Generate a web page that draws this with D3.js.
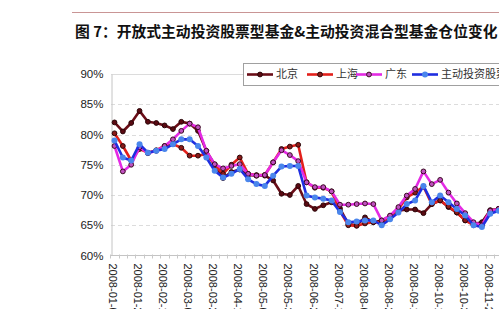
<!DOCTYPE html>
<html>
<head>
<meta charset="utf-8">
<script src="https://cdn.jsdelivr.net/npm/d3@7"></script>
<style>
  body { margin: 0; background: #fff; }
  svg { display: block; overflow: hidden; }
</style>
</head>
<body>
<div id="chart"></div>
<script>
// Weekly dates (2008-10-03 holiday week is missing in the source)
const dates = ["2008-01-04","2008-01-11","2008-01-18","2008-01-25","2008-02-01","2008-02-08","2008-02-15",
  "2008-02-22","2008-02-29","2008-03-07","2008-03-14","2008-03-21","2008-03-28","2008-04-04","2008-04-11",
  "2008-04-18","2008-04-25","2008-05-02","2008-05-09","2008-05-16","2008-05-23","2008-05-30","2008-06-06",
  "2008-06-13","2008-06-20","2008-06-27","2008-07-04","2008-07-11","2008-07-18","2008-07-25","2008-08-01",
  "2008-08-08","2008-08-15","2008-08-22","2008-08-29","2008-09-05","2008-09-12","2008-09-19","2008-09-26",
  "2008-10-10","2008-10-17","2008-10-24","2008-10-31","2008-11-07","2008-11-14","2008-11-21","2008-11-28"];

const seriesNames = ["北京", "上海", "广东", "主动投资股票型基金"];

const beijing = [82.0,80.5,81.9,83.9,82.1,81.9,81.5,80.9,82.1,81.8,80.6,77.3,75.0,72.8,73.8,74.2,73.3,73.2,73.2,72.4,
  70.2,70.0,71.5,68.5,67.7,68.3,68.8,67.8,65.2,65.0,66.3,65.5,65.8,66.5,67.4,67.6,67.6,67.0,68.5,69.1,68.0,67.1,
  65.8,65.2,65.5,67.5,67.7];
const shanghai = [80.2,78.1,75.7,77.6,77.0,77.4,78.1,78.4,77.8,76.5,76.5,76.8,75.0,73.5,75.0,76.2,73.5,73.3,73.3,75.4,
  77.6,78.0,78.3,72.1,71.2,71.2,70.6,67.4,65.0,64.9,65.3,65.5,65.5,66.3,67.7,69.6,70.4,71.4,68.5,69.1,68.1,67.1,
  65.8,65.0,65.0,67.4,67.7];
const guangdong = [78.1,73.9,75.0,77.9,76.9,77.3,78.1,79.2,80.6,81.8,81.2,77.3,75.1,74.4,74.8,75.1,73.5,73.2,73.3,75.4,
  77.4,76.6,75.6,72.1,71.3,71.3,70.6,68.4,68.4,68.5,68.6,68.5,65.8,66.6,68.0,69.9,71.0,73.9,71.8,72.5,70.4,68.6,
  67.0,65.5,65.0,67.4,67.7];
const activeFund = [79.0,76.2,75.7,78.4,77.0,77.3,77.6,78.4,79.2,79.2,78.1,76.2,74.0,72.9,73.5,74.3,72.6,71.8,71.5,73.2,
  74.7,74.8,74.8,69.9,69.6,69.4,69.1,67.2,65.5,65.6,65.8,65.8,65.0,66.0,67.1,68.5,69.1,71.5,68.8,69.9,68.8,67.7,
  66.6,65.0,64.7,66.9,67.4];

const yTicks = [60, 65, 70, 75, 80, 85, 90];

// Chart dimensions
const width = 499, height = 309;
const plot = { left: 111, right: 499, top: 74, bottom: 255.5 };
const step = 8.35;

const svg = d3.select("#chart").append("svg")
  .attr("width", width)
  .attr("height", height);

// Scales
const x = d3.scalePoint()
  .domain(dates)
  .range([114.5, 114.5 + step * (dates.length - 1)]);

const y = d3.scaleLinear()
  .domain([60, 90])
  .range([plot.bottom, plot.top]);

// Title rule and title
svg.append("line")
  .attr("x1", 72).attr("x2", width)
  .attr("y1", 12.5).attr("y2", 12.5)
  .attr("stroke", "#c99595").attr("stroke-width", 1);

svg.append("text")
  .attr("x", 75).attr("y", 37)
  .style("font-family", "'Noto Sans CJK SC', sans-serif")
  .style("font-size", "14.8px")
  .style("font-weight", "bold")
  .attr("fill", "#111")
  .text("图 7：开放式主动投资股票型基金&主动投资混合型基金仓位变化");

// Grid lines
svg.append("g")
  .selectAll("line")
  .data(yTicks.filter(d => d > 60))
  .join("line")
  .attr("x1", plot.left).attr("x2", width)
  .attr("y1", d => Math.round(y(d)) + 0.5).attr("y2", d => Math.round(y(d)) + 0.5)
  .attr("stroke", "#dcdcdc")
  .attr("stroke-dasharray", d => d === 90 ? null : "4,3");

// Y axis
const yAxis = svg.append("g")
  .attr("transform", `translate(${plot.left + 0.5},0)`)
  .call(d3.axisLeft(y).tickValues(yTicks).tickFormat(d => d + "%").tickSize(0).tickPadding(8));
yAxis.select(".domain").attr("stroke", "#c4c4c4");
yAxis.selectAll("text")
  .style("font-family", "Arial, 'Liberation Sans', sans-serif")
  .style("font-size", "11.5px")
  .attr("fill", "#222");

// X axis
const xAxis = svg.append("g")
  .attr("transform", `translate(0,${plot.bottom})`);
xAxis.append("line")
  .attr("x1", plot.left).attr("x2", width)
  .attr("stroke", "#c4c4c4");
xAxis.selectAll(".tick")
  .data(dates)
  .join("line")
  .attr("class", "tick")
  .attr("x1", d => Math.round(x(d) - step / 2) + 0.5)
  .attr("x2", d => Math.round(x(d) - step / 2) + 0.5)
  .attr("y1", -1).attr("y2", 3)
  .attr("stroke", "#c8c8c8");

xAxis.selectAll(".label")
  .data(dates.filter((d, i) => i % 3 === 0))
  .join("text")
  .attr("class", "label")
  .attr("transform", d => `translate(${x(d) - 1.5},8) rotate(90)`)
  .attr("dy", "0.35em")
  .style("font-family", "Arial, 'Liberation Sans', sans-serif")
  .style("font-size", "11px")
  .attr("fill", "#222")
  .text(d => d);

// Lines
const series = [
  { name: seriesNames[0], values: beijing, color: "#6a0d17", marker: "#5a0a12", stroke: "#2a0508" },
  { name: seriesNames[1], values: shanghai, color: "#e3201b", marker: "#8a1a18", stroke: "#2a0508" },
  { name: seriesNames[2], values: guangdong, color: "#e42ae4", marker: "#c050c0", stroke: "#3a0a20" },
  { name: seriesNames[3], values: activeFund, color: "#1f2ee0", marker: "#4a86ec", stroke: "none" }
];

const line = d3.line()
  .x((d, i) => x(dates[i]))
  .y(d => y(d));

series.forEach(s => {
  const g = svg.append("g");
  g.append("path")
    .datum(s.values)
    .attr("fill", "none")
    .attr("stroke", s.color)
    .attr("stroke-width", 2.6)
    .attr("stroke-linejoin", "round")
    .attr("d", line);
  g.selectAll("circle")
    .data(s.values)
    .join("circle")
    .attr("cx", (d, i) => x(dates[i]))
    .attr("cy", d => y(d))
    .attr("r", s.stroke === "none" ? 3 : 2.4)
    .attr("fill", s.marker)
    .attr("stroke", s.stroke)
    .attr("stroke-width", 1);
});

// Legend
const legend = svg.append("g");
legend.append("rect")
  .attr("x", 243.5).attr("y", 63.5)
  .attr("width", 300).attr("height", 22)
  .attr("fill", "#fff")
  .attr("stroke", "#a0a0a0");

const legendX = [247, 307, 356, 412];
series.forEach((s, i) => {
  const lx = legendX[i];
  legend.append("line")
    .attr("x1", lx).attr("x2", lx + 26)
    .attr("y1", 74.5).attr("y2", 74.5)
    .attr("stroke", s.color).attr("stroke-width", 2.6);
  legend.append("circle")
    .attr("cx", lx + 13).attr("cy", 74.5)
    .attr("r", s.stroke === "none" ? 3 : 2.4)
    .attr("fill", s.marker)
    .attr("stroke", s.stroke);
  legend.append("text")
    .attr("x", lx + 29).attr("y", 74.5)
    .attr("dy", "0.35em")
    .style("font-family", "'Noto Sans CJK SC', sans-serif")
    .style("font-size", "11px")
    .attr("fill", "#333")
    .text(s.name);
});
</script>
</body>
</html>
